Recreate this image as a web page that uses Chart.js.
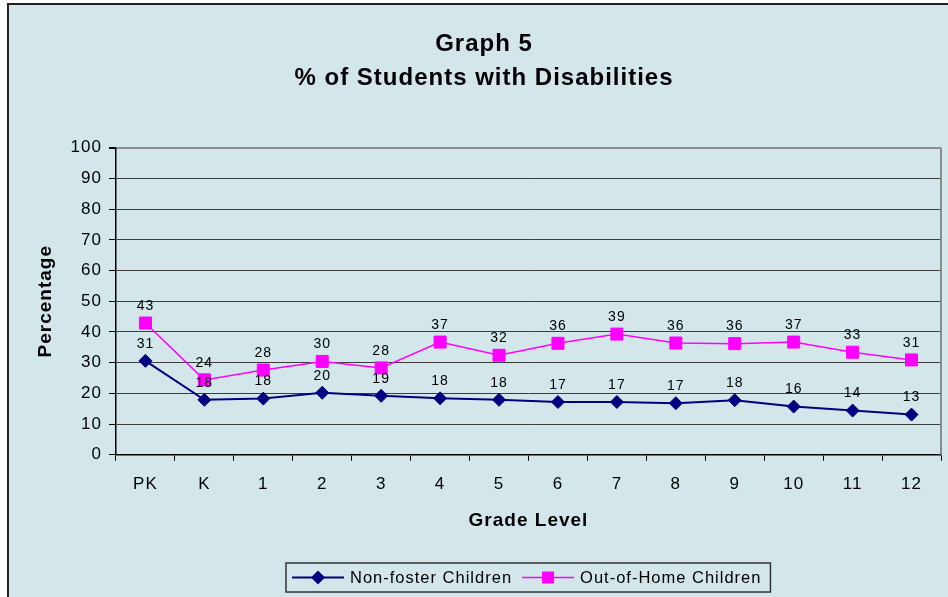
<!DOCTYPE html>
<html>
<head>
<meta charset="utf-8">
<title>Graph 5</title>
<script src="https://cdn.jsdelivr.net/npm/chart.js@4.4.0/dist/chart.umd.min.js"></script>
<style>
  html, body { margin: 0; padding: 0; background: #fff; overflow: hidden; }
  #frame {
    position: absolute; left: 7px; top: 3px;
    width: 950px; height: 592px;
    background: #d3e7eb;
    border-left: 2px solid #222; border-top: 2px solid #222;
  }
  canvas { display: block; }
</style>
</head>
<body>
<div id="frame"><canvas id="myChart" width="950" height="592"></canvas></div>
<script>
const grades = ["PK", "K", "1", "2", "3", "4", "5", "6", "7", "8", "9", "10", "11", "12"];
const nonFoster = [30.6, 17.9, 18.3, 20.2, 19.2, 18.4, 17.9, 17.2, 17.2, 16.8, 17.8, 15.7, 14.4, 13.1];
const outOfHome = [42.9, 24.4, 27.6, 30.4, 28.3, 36.7, 32.4, 36.3, 39.3, 36.4, 36.2, 36.7, 33.4, 30.9];
const seriesNames = ["Non-foster Children", "Out-of-Home Children"];
const seriesColors = ["#000080", "#ff00ff"];
const titleLines = ["Graph 5", "% of Students with Disabilities"];
const yMin = 0, yMax = 100, yStep = 10;

const FONT = "'Liberation Sans', Arial, sans-serif";
Chart.defaults.font.family = FONT;
Chart.defaults.color = "#000";

// the old chart spreads its letters a bit
const spacing = {
  id: "spacing",
  beforeUpdate(chart) { chart.ctx.letterSpacing = "1px"; },
  beforeDraw(chart) { chart.ctx.letterSpacing = "1px"; }
};

// grey frame on the right of the plot
const plotFrame = {
  id: "plotFrame",
  beforeDatasetsDraw(chart) {
    const { ctx, chartArea } = chart;
    ctx.save();
    ctx.strokeStyle = "#8c8c8c";
    ctx.lineWidth = 2;
    ctx.beginPath();
    ctx.moveTo(chartArea.right, chartArea.top);
    ctx.lineTo(chartArea.right, chartArea.bottom);
    ctx.stroke();
    ctx.restore();
  }
};

const valueLabels = {
  id: "valueLabels",
  afterDatasetsDraw(chart) {
    const ctx = chart.ctx;
    ctx.save();
    ctx.font = "14px " + FONT;
    ctx.fillStyle = "#000";
    ctx.textAlign = "center";
    ctx.textBaseline = "middle";
    chart.data.datasets.forEach((ds, i) => {
      chart.getDatasetMeta(i).data.forEach((pt, j) => {
        ctx.fillText(String(Math.round(ds.data[j])), pt.x, pt.y - 17);
      });
    });
    ctx.restore();
  }
};

function drawMarker(ctx, style, x, y, color) {
  ctx.fillStyle = color;
  ctx.beginPath();
  if (style === "rectRot") {
    ctx.moveTo(x, y - 7);
    ctx.lineTo(x + 7, y);
    ctx.lineTo(x, y + 7);
    ctx.lineTo(x - 7, y);
    ctx.closePath();
  } else {
    ctx.rect(x - 6, y - 6, 12, 12);
  }
  ctx.fill();
}

// excel style legend: line + marker + name, in a box under the plot
const boxLegend = {
  id: "boxLegend",
  afterDraw(chart) {
    const { ctx, chartArea } = chart;
    const sets = chart.data.datasets;
    ctx.save();
    ctx.font = "16.5px " + FONT;
    const widths = sets.map((ds) => ctx.measureText(ds.label).width);
    let total = 6 + 9 + (sets.length - 1) * 10;
    widths.forEach((w) => { total += 52 + 6 + w; });
    const boxH = 29;
    const left = Math.round((chartArea.left + chartArea.right) / 2 - total / 2);
    const top = chart.height - 5 - boxH;
    const cy = top + boxH / 2;

    ctx.strokeStyle = "#333";
    ctx.lineWidth = 1.5;
    ctx.strokeRect(left, top, total, boxH);

    let x = left + 6;
    sets.forEach((ds, i) => {
      ctx.strokeStyle = ds.borderColor;
      ctx.lineWidth = ds.borderWidth;
      ctx.beginPath();
      ctx.moveTo(x, cy);
      ctx.lineTo(x + 52, cy);
      ctx.stroke();
      drawMarker(ctx, ds.pointStyle, x + 26, cy, ds.borderColor);
      x += 58;
      ctx.fillStyle = "#000";
      ctx.textAlign = "left";
      ctx.textBaseline = "middle";
      ctx.fillText(ds.label, x, cy + 1);
      x += widths[i] + 10;
    });
    ctx.restore();
  }
};

new Chart("myChart", {
  type: "line",
  data: {
    labels: grades,
    datasets: [
      {
        label: seriesNames[0],
        data: nonFoster,
        borderColor: seriesColors[0],
        backgroundColor: seriesColors[0],
        borderWidth: 2,
        pointStyle: "rectRot",
        pointRadius: 6.5,
        pointBorderWidth: 1,
        tension: 0,
        fill: false,
      },
      {
        label: seriesNames[1],
        data: outOfHome,
        borderColor: seriesColors[1],
        backgroundColor: seriesColors[1],
        borderWidth: 1.5,
        pointStyle: "rect",
        pointRadius: 8.5,
        pointBorderWidth: 1,
        tension: 0,
        fill: false,
      },
    ],
  },
  options: {
    responsive: false,
    animation: false,
    events: [],
    layout: { padding: { left: 18, right: 18, top: 0, bottom: 64.6 } },
    plugins: {
      legend: { display: false },
      tooltip: { enabled: false },
      title: {
        display: true,
        text: titleLines,
        color: "#000",
        font: { size: 24, weight: "bold", lineHeight: 34 / 24 },
        padding: { top: 22, bottom: 52.7 },
      },
    },
    scales: {
      x: {
        offset: true,
        grid: { offset: true, drawOnChartArea: false, drawTicks: true, tickLength: 6, tickColor: "#000" },
        border: { color: "#000", width: 1.5 },
        ticks: { font: { size: 17 }, color: "#000", padding: 13.5, maxRotation: 0, autoSkip: false },
        title: {
          display: true,
          text: "Grade Level",
          color: "#000",
          font: { size: 19, weight: "bold" },
          padding: { top: 1.4, bottom: 0 },
        },
      },
      y: {
        min: yMin,
        max: yMax,
        ticks: { stepSize: yStep, font: { size: 17 }, color: "#000", padding: 7 },
        grid: {
          color: (c) => (c.tick && c.tick.value === yMax ? "#8c8c8c" : "#3c3c3c"),
          lineWidth: (c) => (c.tick && c.tick.value === yMax ? 2 : 1),
          tickLength: 7,
          tickColor: "#000",
        },
        border: { color: "#000", width: 1.5 },
        title: {
          display: true,
          text: "Percentage",
          color: "#000",
          font: { size: 19, weight: "bold" },
          padding: { top: 7.6, bottom: 6.2 },
        },
      },
    },
  },
  plugins: [spacing, plotFrame, valueLabels, boxLegend],
});
</script>
</body>
</html>
